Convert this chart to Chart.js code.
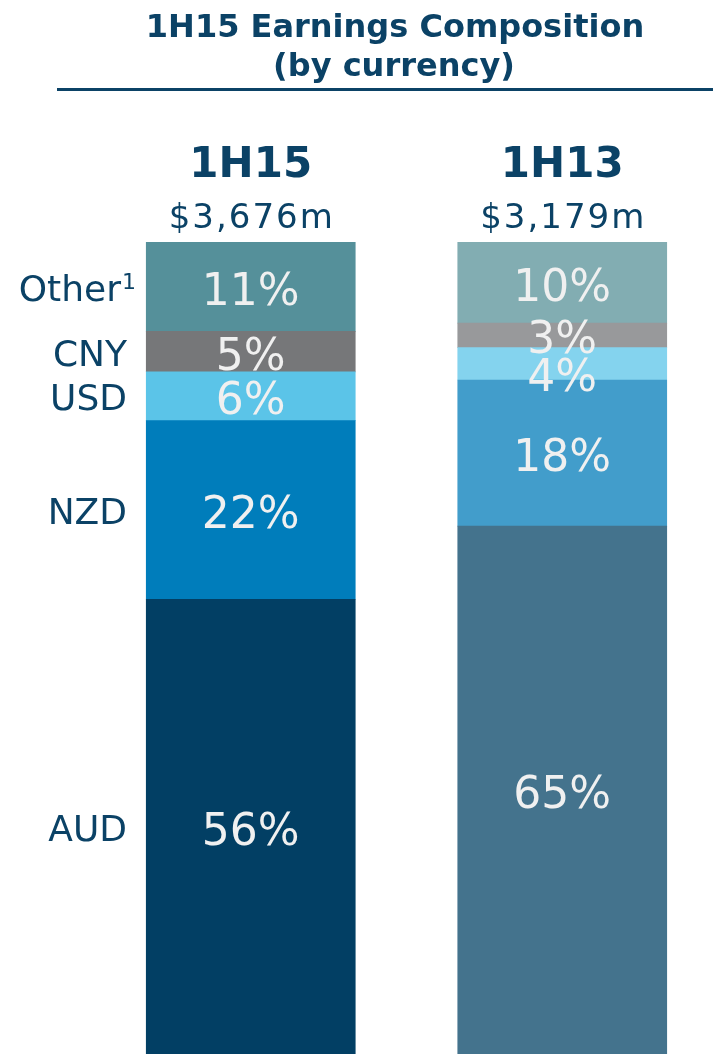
<!DOCTYPE html>
<html>
<head>
<meta charset="utf-8">
<script src="https://cdn.jsdelivr.net/npm/chart.js@4"></script>
<style>
  html, body { margin: 0; padding: 0; background: #fff; overflow: hidden; }
  #wrap { width: 718px; height: 1054px; position: relative; }
</style>
</head>
<body>
<div id="wrap"><canvas id="chart"></canvas></div>
<script>
const categories = ['1H15', '1H13'];
const totals = ['$3,676m', '$3,179m'];
const currencies = ['AUD', 'NZD', 'USD', 'CNY', 'Other'];
const aud = [56, 65];
const nzd = [22, 18];
const usd = [6, 4];
const cny = [5, 3];
const other = [11, 10];

const titleLines = ['1H15 Earnings Composition', '(by currency)'];

const navy = '#0b4266';
const FONT = "'DejaVu Sans', sans-serif";

// colours per currency: [1H15, 1H13]
const colours = {
  AUD: ['#023f64', '#44738d'],
  NZD: ['#007dbb', '#429dcb'],
  USD: ['#5bc4e8', '#84d3ee'],
  CNY: ['#767779', '#98999b'],
  Other: ['#55909a', '#82adb2']
};

const seriesValues = [aud, nzd, usd, cny, other];

const labelsPlugin = {
  id: 'labels',
  afterDraw(chart) {
    const ctx = chart.ctx;
    const x = chart.scales.x;
    ctx.save();

    // title + rule
    ctx.fillStyle = navy;
    ctx.textAlign = 'center';
    ctx.textBaseline = 'alphabetic';
    ctx.font = 'bold 32px ' + FONT;
    ctx.fillText(titleLines[0], 395, 37);
    ctx.fillText(titleLines[1], 394, 76);
    ctx.fillRect(57, 88, 661, 3);

    // column headers
    categories.forEach((c, j) => {
      const cx = x.getPixelForValue(j);
      ctx.font = 'bold 42px ' + FONT;
      ctx.fillText(c, cx, 177);
      ctx.font = '34px ' + FONT;
      ctx.letterSpacing = '2px';
      ctx.fillText(totals[j], cx + 1, 228);
      ctx.letterSpacing = '0px';
    });

    // percentage labels, top to bottom
    ctx.font = '44px ' + FONT;
    ctx.fillStyle = '#f0f0f0';
    categories.forEach((c, j) => {
      let prev = -Infinity;
      for (let i = seriesValues.length - 1; i >= 0; i--) {
        const el = chart.getDatasetMeta(i).data[j];
        const mid = (el.y + el.base) / 2;
        const y = Math.max(mid + 18, prev + 38);
        ctx.fillText(seriesValues[i][j] + '%', el.x, y);
        prev = y;
      }
    });

    // currency labels on the left
    ctx.fillStyle = navy;
    ctx.textAlign = 'right';
    currencies.forEach((cur, i) => {
      const el = chart.getDatasetMeta(i).data[0];
      const y = (el.y + el.base) / 2 + 14;
      if (cur === 'Other') {
        ctx.font = '22px ' + FONT;
        const supW = ctx.measureText('1').width;
        ctx.fillText('1', 136, y - 12);
        ctx.font = '36px ' + FONT;
        ctx.fillText(cur, 135 - supW, y);
      } else {
        ctx.font = '36px ' + FONT;
        ctx.fillText(cur, 127, y);
      }
    });

    ctx.restore();
  }
};

new Chart(document.getElementById('chart'), {
  type: 'bar',
  data: {
    labels: categories,
    datasets: currencies.map((cur, i) => ({
      label: cur,
      data: seriesValues[i],
      backgroundColor: colours[cur],
      borderWidth: 0,
      barThickness: 209
    }))
  },
  options: {
    responsive: true,
    maintainAspectRatio: false,
    animation: false,
    layout: { padding: { top: 242, left: 95, right: 0, bottom: 0 } },
    plugins: {
      legend: { display: false },
      tooltip: { enabled: false },
      title: { display: false }
    },
    scales: {
      x: { stacked: true, display: false },
      y: { stacked: true, display: false, min: 0, max: 100 }
    }
  },
  plugins: [labelsPlugin]
});
</script>
</body>
</html>
